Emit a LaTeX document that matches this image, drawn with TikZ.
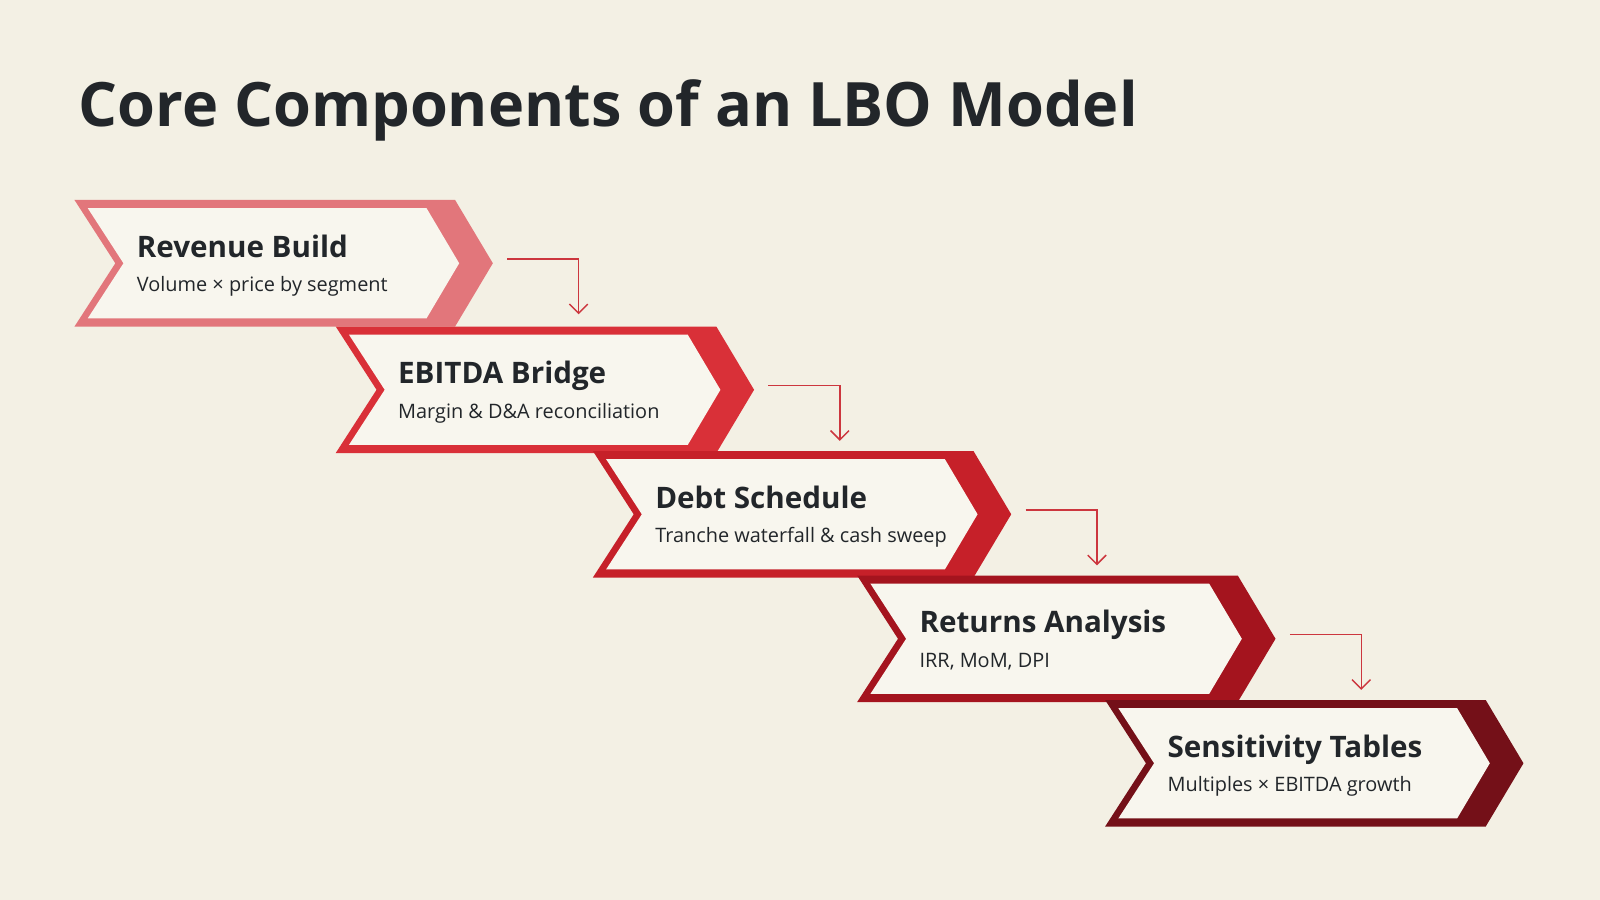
\documentclass[tikz,border=0pt]{standalone}
\usepackage{fontspec}
\setmainfont{Open Sans}
\usetikzlibrary{arrows.meta}
\definecolor{bg}{HTML}{F3F0E4}
\definecolor{inner}{HTML}{F8F6EE}
\definecolor{ink}{HTML}{22262A}
\definecolor{cA}{HTML}{E2767B}
\definecolor{cB}{HTML}{D93038}
\definecolor{cC}{HTML}{C62029}
\definecolor{cD}{HTML}{A4141E}
\definecolor{cE}{HTML}{741018}
\begin{document}
\begin{tikzpicture}[x=1pt,y=-1pt,
  head/.style={anchor=base west,font=\fontsize{29}{32}\selectfont\bfseries,text=ink,inner sep=0},
  sub/.style={anchor=base west,font=\fontsize{19.5}{22}\selectfont,text=ink,inner sep=0},
  conn/.style={draw=cC!90,line width=1.4pt,-{Straight Barb[length=9pt,width=18pt,line width=1.4pt]}}]
\useasboundingbox[fill=bg] (0,0) rectangle (1568,882);
\node[anchor=base west,inner sep=0,font=\fontsize{60}{70}\selectfont\bfseries,text=ink] (title) at (77,124) {Core Components of an LBO Model};
\newcommand{\chev}[6]{%
  \fill[#4] (#2,#3) -- ++(373,0) -- ++(37,62) -- ++(-37,62) -- ++(-373,0) -- ++(40,-62) -- cycle;
  \fill[inner] (#2+13,#3+8) -- (#2+345,#3+8) -- (#2+377,#3+62) -- (#2+345,#3+116) -- (#2+13,#3+116) -- (#2+48,#3+62) -- cycle;
  \node[head] (#1h) at (#2+61,#3+56) {#5};
  \node[sub] (#1s) at (#2+61,#3+90) {#6};
  \coordinate (#1o) at (#2+424,#3+58);
  \coordinate (#1c) at (#2+494,#3+58);
  \coordinate (#1e) at (#2+494,#3+112);
}
\chev{a}{73}{196}{cA}{Revenue Build}{Volume × price by segment}
\chev{b}{329}{320}{cB}{EBITDA Bridge}{Margin \& D\&A reconciliation}
\chev{c}{581}{442}{cC}{Debt Schedule}{Tranche waterfall \& cash sweep}
\chev{d}{840}{564}{cD}{Returns Analysis}{IRR, MoM, DPI}
\chev{e}{1083}{686}{cE}{Sensitivity Tables}{Multiples × EBITDA growth}
\foreach \s in {a,b,c,d}{\draw[conn] (\s o) -- (\s c) -- (\s e);}
\end{tikzpicture}
\end{document}
